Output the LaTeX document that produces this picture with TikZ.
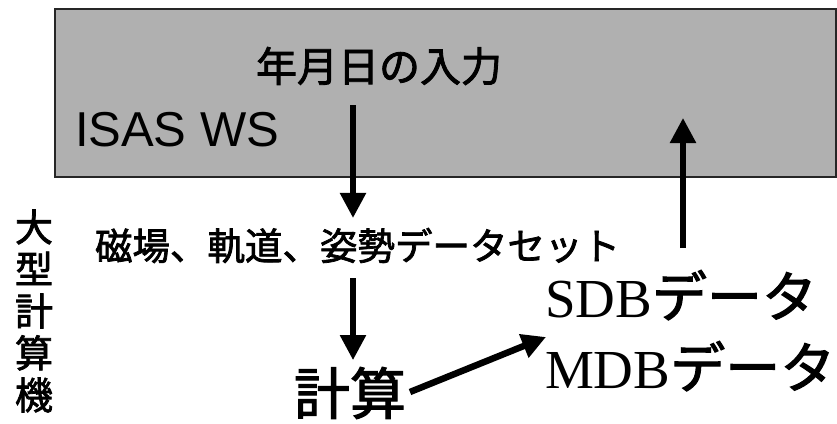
\documentclass[tikz,border=0pt]{standalone}
\usepackage{fontspec}
\setmainfont{Liberation Serif}
\newfontfamily\jp[FakeBold=2]{Noto Sans CJK JP}
\newfontfamily\arial{Liberation Sans}
\usetikzlibrary{arrows.meta}
\tikzset{
  wsbox/.style={draw=black!85, line width=1.6pt, fill=black!31},
  lbl/.style={inner sep=0pt, outer sep=0pt},
  arr/.style={line width=5.5pt, -{Triangle[length=25pt,width=25pt]}},
  darr/.style={line width=6.5pt, -{Triangle[length=24pt,width=24pt]}},
}
\begin{document}
\begin{tikzpicture}[x=1pt,y=-1pt]
\useasboundingbox (0,0) rectangle (837,423);
\fill[white] (0,0) rectangle (837,423);
% ISAS WS box
\node[wsbox, minimum width=781pt, minimum height=168pt, anchor=north west, inner sep=0pt] (ws) at (54,8) {};
\node[lbl, anchor=base west, font=\arial\fontsize{49}{49}\selectfont] (isas) at (75,146) {ISAS WS};
\node[lbl, anchor=west, font=\jp\fontsize{41}{41}\selectfont] (input) at (256,66) {年月日の入力};
% vertical label
\node[lbl, align=center, font=\jp\fontsize{38}{42}\selectfont] (big) at (34,311) {大\\型\\計\\算\\機};
% dataset
\node[lbl, anchor=west, font=\jp\fontsize{37.5}{37.5}\selectfont] (data) at (95,245.5) {磁場、軌道、姿勢データセット};
% compute
\node[lbl, anchor=west, font=\jp\fontsize{56}{56}\selectfont] (calc) at (294,393) {計算};
% SDB / MDB
\node[lbl, anchor=base west, font=\fontsize{55}{55}\selectfont] (sdb) at (545,317) {SDB{\jp データ}};
\node[lbl, anchor=base west, font=\fontsize{55}{55}\selectfont] (mdb) at (545,388) {MDB{\jp データ}};
% arrow columns and free ends
\coordinate (c1) at (353,0);
\coordinate (a1s) at (353,105);
\coordinate (a2s) at (353,278);
\coordinate (u1e) at (683,118);
\coordinate (u1s) at (683,248);
\coordinate (dtail) at (410,392);
\coordinate (dtip) at (546,337);
\draw[arr] (a1s) -- ([yshift=10pt]data.north -| c1);
\draw[arr] (a2s) -- ([yshift=7pt]calc.north -| c1);
\draw[arr] (u1s) -- (u1e);
\draw[darr] (dtail) -- (dtip);
\end{tikzpicture}
\end{document}
